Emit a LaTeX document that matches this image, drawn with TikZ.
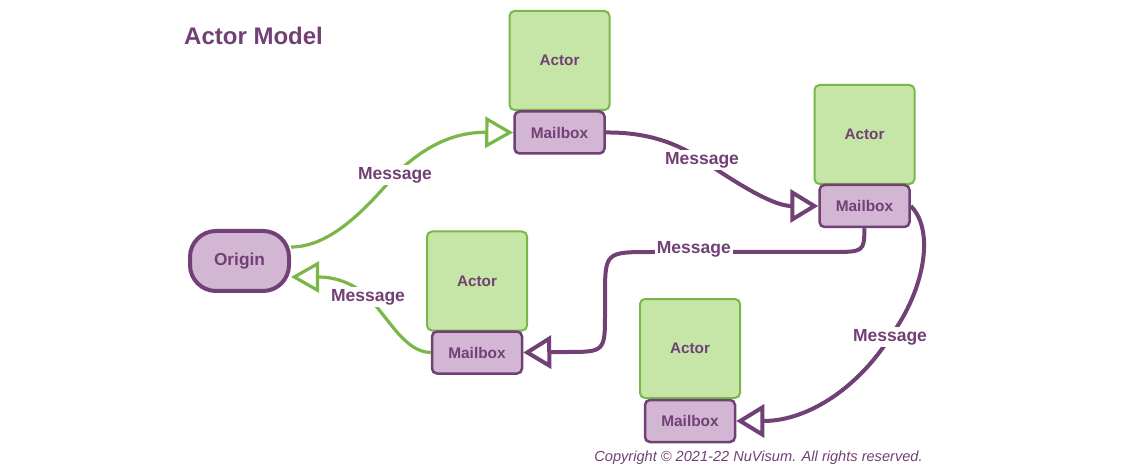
\documentclass[tikz,border=0pt]{standalone}
\usepackage{fontspec}
\setmainfont{Liberation Sans}
\usetikzlibrary{arrows.meta}
\definecolor{plum}{HTML}{714075}
\definecolor{lilac}{HTML}{D2B6D4}
\definecolor{leaf}{HTML}{C6E6A8}
\definecolor{leafline}{HTML}{7AB648}

\begin{document}
\begin{tikzpicture}[x=1pt,y=-1pt,
	every node/.style={text=plum},
	actorbox/.style={draw=leafline,fill=leaf,line width=2pt,rounded corners=5pt,
		minimum width=100pt,minimum height=99pt,font=\bfseries\fontsize{15.3}{18}\selectfont},
	mailbox/.style={draw=plum,fill=lilac,line width=2.5pt,rounded corners=5pt,
		minimum width=90pt,minimum height=42pt,font=\bfseries\fontsize{15.4}{18}\selectfont},
	originbox/.style={draw=plum,fill=lilac,line width=4pt,rounded corners=26pt,
		minimum width=99pt,minimum height=60pt,font=\bfseries\fontsize{17.3}{20}\selectfont},
	msg/.style={draw=plum,line width=4pt,-{Triangle[length=28pt,width=33pt,fill=white]}},
	greenmsg/.style={draw=leafline,line width=3.2pt,-{Triangle[length=28pt,width=31pt,fill=white]}},
	lbl/.style={fill=white,inner sep=2pt,font=\bfseries\fontsize{17.5}{20}\selectfont}]
	\useasboundingbox (0,0) rectangle (1125,473);

	\node[anchor=west,inner sep=0pt,font=\bfseries\fontsize{24}{28}\selectfont] (title) at (184,36) {Actor Model};

	% actors with their mailboxes
	\node[actorbox] (actor1) at (559.5,60.5) {Actor};
	\node[mailbox] (mb1) at (559.5,132.5) {Mailbox};
	\node[actorbox] (actor2) at (864.5,134.5) {Actor};
	\node[mailbox] (mb2) at (864.5,206) {Mailbox};
	\node[actorbox] (actor3) at (477,281) {Actor};
	\node[mailbox] (mb3) at (477,352.5) {Mailbox};
	\node[actorbox] (actor4) at (690,348.5) {Actor};
	\node[mailbox] (mb4) at (690,421) {Mailbox};

	\node[originbox] (origin) at (239.5,261) {Origin};

	% messages
	\draw[greenmsg] ([yshift=14pt]origin.east) .. controls (330,247) and (365,210) .. (395,175)
		node[lbl] {Message} .. controls (420,150) and (450,132) .. (mb1.west);
	\draw[msg] (mb1.east) .. controls (650,132) and (680,145) .. (702,160)
		node[lbl] {Message} .. controls (725,175) and (770,206) .. (mb2.west);
	\draw[msg] (mb2.south) .. controls (864,252) .. (830,252) -- (652,252)
		node[lbl,pos=0.765,yshift=3pt] {Message}
		.. controls (605,252) .. (605,298) -- (605,312) .. controls (605,352) .. (565,352) -- (mb3.east);
	\draw[msg] (mb2.east) .. controls (935,230) and (925,290) .. (890,337)
		node[lbl] {Message} .. controls (860,385) and (810,421) .. (mb4.east);
	\draw[greenmsg] (mb3.west) .. controls (405,352) and (390,320) .. (368,297)
		node[lbl] {Message} .. controls (350,280) and (330,277) .. ([yshift=-16pt]origin.east);

	\node[font=\itshape\fontsize{14.6}{17}\selectfont] (copy) at (758.5,457.5) {Copyright © 2021-22 NuVisum. All rights reserved.};
\end{tikzpicture}
\end{document}
